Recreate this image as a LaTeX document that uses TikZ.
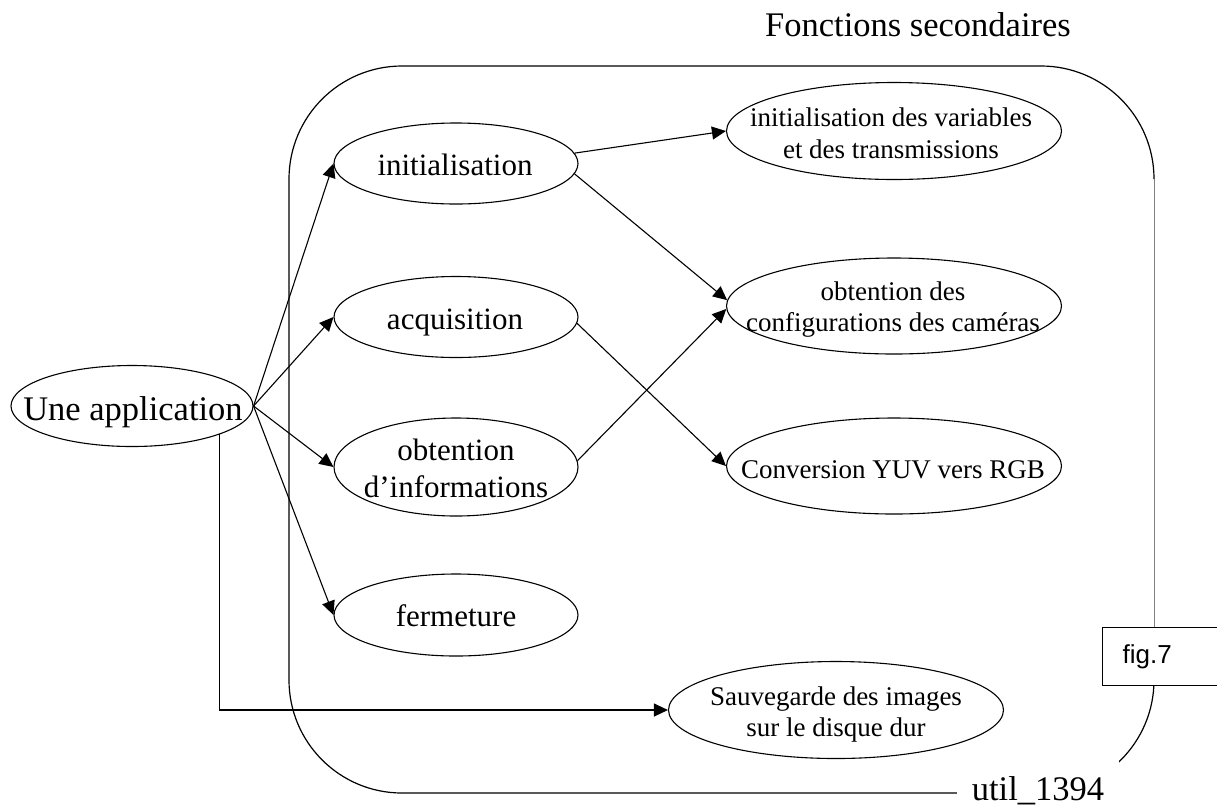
\documentclass[tikz,border=0pt]{standalone}
\usepackage{fontspec}
\setmainfont{Liberation Serif}
\newfontfamily\figfont{Liberation Sans}
\usetikzlibrary{shapes.geometric,arrows.meta}
\begin{document}
\begin{tikzpicture}[x=1pt,y=-1pt,
  oval/.style={ellipse, draw, line width=1.1pt, inner sep=0pt},
  lbl/.style={inner sep=0pt, align=center},
  bigtxt/.style={font=\fontsize{34.5}{41}\selectfont},
  midtxt/.style={font=\fontsize{31}{37}\selectfont},
  smalltxt/.style={font=\fontsize{27}{31.6}\selectfont},
  link/.style={line width=1.1pt, -{Triangle[length=14pt,width=13pt]}},
  frame/.style={line width=1.2pt}]
\useasboundingbox (0,0) rectangle (1217,807);

% module boundary
\draw[frame, rounded corners=113pt]
  (1154,179) -- (1154,66) -- (289,66) -- (289,793) -- (1154,793) -- (1154,680);
\draw[gray, line width=0.7pt] (1154,179) -- (1154,680);

% ellipses
\node[oval, minimum width=242pt, minimum height=81pt] (app)  at (132,406) {};
\node[oval, minimum width=244pt, minimum height=81pt] (init) at (456,163.5) {};
\node[oval, minimum width=244pt, minimum height=81pt] (acq)  at (456,317) {};
\node[oval, minimum width=244pt, minimum height=98pt] (info) at (456,467) {};
\node[oval, minimum width=244pt, minimum height=82pt] (ferm) at (456,615) {};
\node[oval, minimum width=335pt, minimum height=97pt] (vars) at (894,131) {};
\node[oval, minimum width=335pt, minimum height=96pt] (cfg)  at (894,306) {};
\node[oval, minimum width=335pt, minimum height=96pt] (conv) at (894,466) {};
\node[oval, minimum width=335pt, minimum height=97pt] (sauv) at (836,710) {};

% texts inside the ellipses (base = baseline of the last line)
\node[lbl, bigtxt, anchor=base] (app-t) at (133,420.5) {Une application};
\node[lbl, midtxt, anchor=base] (init-t) at (455,175) {initialisation};
\node[lbl, midtxt, anchor=base] (acq-t) at (455,329) {acquisition};
\node[lbl, midtxt, anchor=base] (info-t) at (456,497) {obtention\\d’informations};
\node[lbl, midtxt, anchor=base] (ferm-t) at (456,626.5) {fermeture};
\node[lbl, smalltxt, anchor=base] (vars-t) at (891,158.3) {initialisation des variables\\et des transmissions};
\node[lbl, smalltxt, anchor=base] (cfg-t) at (893,331.7) {obtention des\\configurations des caméras};
\node[lbl, smalltxt, anchor=base] (conv-t) at (893,478) {Conversion YUV vers RGB};
\node[lbl, smalltxt, anchor=base] (sauv-t) at (836,736.7) {Sauvegarde des images\\sur le disque dur};

% connectors
\draw[link] (app.east) -- (init.west);
\draw[link] (app.east) -- (acq.west);
\draw[link] (app.east) -- (info.west);
\draw[link] (app.east) -- (ferm.west);
\draw[link] (app.-18.5) |- (sauv.west);
\draw[link] (init.5) -- (vars.west);
\draw[link] (init.-5) -- (cfg.178.5);
\draw[link] (acq.-3) -- (conv.west);
\draw[link] (info.3) -- (cfg.181.5);

% captions
\node[bigtxt, anchor=base, inner sep=0pt] (title) at (918,36) {Fonctions secondaires};
\node[bigtxt, anchor=base, fill=white, inner sep=15pt] (util) at (1038,800) {util\_1394};
\node[draw, fill=white, line width=1.2pt, anchor=north west, minimum height=58pt,
      text width=100pt, inner xsep=20pt, align=left,
      font=\figfont\fontsize{26}{30}\selectfont] (fig) at (1102,627) {fig.7};
\end{tikzpicture}
\end{document}
